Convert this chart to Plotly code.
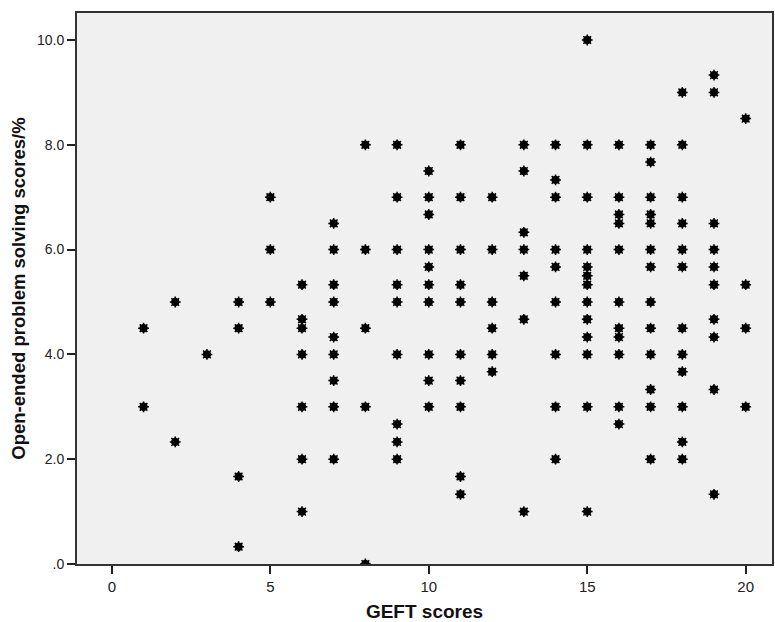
import plotly.graph_objects as go

# GEFT score -> observed open-ended problem solving scores
geft_values = [1, 2, 3, 4, 5, 6, 7, 8, 9, 10, 11, 12, 13, 14, 15, 16, 17, 18, 19, 20]
scores_by_geft = [
    [4.5, 3.0],
    [5.0, 2.33],
    [4.0],
    [5.0, 4.5, 1.67, 0.33],
    [7.0, 6.0, 5.0],
    [5.33, 4.67, 4.5, 4.0, 3.0, 2.0, 1.0],
    [6.5, 6.0, 5.33, 5.0, 4.33, 4.0, 3.5, 3.0, 2.0],
    [8.0, 6.0, 4.5, 3.0, 0.0],
    [8.0, 7.0, 6.0, 5.33, 5.0, 4.0, 2.67, 2.33, 2.0],
    [7.5, 7.0, 6.67, 6.0, 5.67, 5.33, 5.0, 4.0, 3.5, 3.0],
    [8.0, 7.0, 6.0, 5.33, 5.0, 4.0, 3.5, 3.0, 1.67, 1.33],
    [7.0, 6.0, 5.0, 4.5, 4.0, 3.67],
    [8.0, 7.5, 6.33, 6.0, 5.5, 4.67, 1.0],
    [8.0, 7.33, 7.0, 6.0, 5.67, 5.0, 4.0, 3.0, 2.0],
    [10.0, 8.0, 7.0, 6.0, 5.67, 5.5, 5.33, 5.0, 4.67, 4.33, 4.0, 3.0, 1.0],
    [8.0, 7.0, 6.67, 6.5, 6.0, 5.0, 4.5, 4.33, 4.0, 3.0, 2.67],
    [8.0, 7.67, 7.0, 6.67, 6.5, 6.0, 5.67, 5.0, 4.5, 4.0, 3.33, 3.0, 2.0],
    [9.0, 8.0, 7.0, 6.5, 6.0, 5.67, 4.5, 4.0, 3.67, 3.0, 2.33, 2.0],
    [9.33, 9.0, 6.5, 6.0, 5.67, 5.33, 4.67, 4.33, 3.33, 1.33],
    [8.5, 5.33, 4.5, 3.0],
]
x_tick_vals = [0, 5, 10, 15, 20]
y_tick_vals = [0, 2, 4, 6, 8, 10]
y_tick_text = [".0", "2.0", "4.0", "6.0", "8.0", "10.0"]

xs, ys = [], []
for g, sc in zip(geft_values, scores_by_geft):
    for s in sc:
        xs.append(g)
        ys.append(s)

fig = go.Figure()
fig.add_trace(go.Scatter(
    x=xs, y=ys, mode="markers",
    marker=dict(symbol="circle-open", size=6, color="black",
                line=dict(color="black", width=2.4)),
    hoverinfo="x+y", showlegend=False))
fig.add_trace(go.Scatter(
    x=xs, y=ys, mode="markers",
    marker=dict(symbol="asterisk-open", size=9, color="black",
                line=dict(color="black", width=1.5)),
    hoverinfo="skip", showlegend=False))

font_family = "Liberation Sans, Arial, sans-serif"
fig.update_layout(
    width=775, height=622,
    margin=dict(l=77, r=1, t=13, b=58),
    paper_bgcolor="white",
    plot_bgcolor="#f0f0f0",
    font=dict(family=font_family, size=14, color="#222222"),
    xaxis=dict(
        range=[-1.1, 20.83], tickvals=x_tick_vals, ticks="outside", ticklen=8,
        tickwidth=1.5, tickcolor="#222", showgrid=False, zeroline=False,
        showline=True, linecolor="#333", linewidth=2, mirror=True,
        tickfont=dict(size=15, color="#222"),
        title=dict(text="<b>GEFT scores</b>", font=dict(size=19, color="#111"), standoff=12),
    ),
    yaxis=dict(
        range=[0, 10.515], tickvals=y_tick_vals, ticktext=y_tick_text, ticks="outside",
        ticklen=8, tickwidth=1.5, tickcolor="#222", showgrid=False, zeroline=False,
        showline=True, linecolor="#333", linewidth=2, mirror=True,
        tickfont=dict(size=14, color="#222"),
        title=dict(text="<b>Open-ended problem solving scores/%</b>",
                   font=dict(size=18.5, color="#111"), standoff=6),
    ),
)

fig.write_html(
    "out.html",
    config={"displayModeBar": False},
    post_script="document.body.style.margin='0';document.body.style.overflow='hidden';",
)
